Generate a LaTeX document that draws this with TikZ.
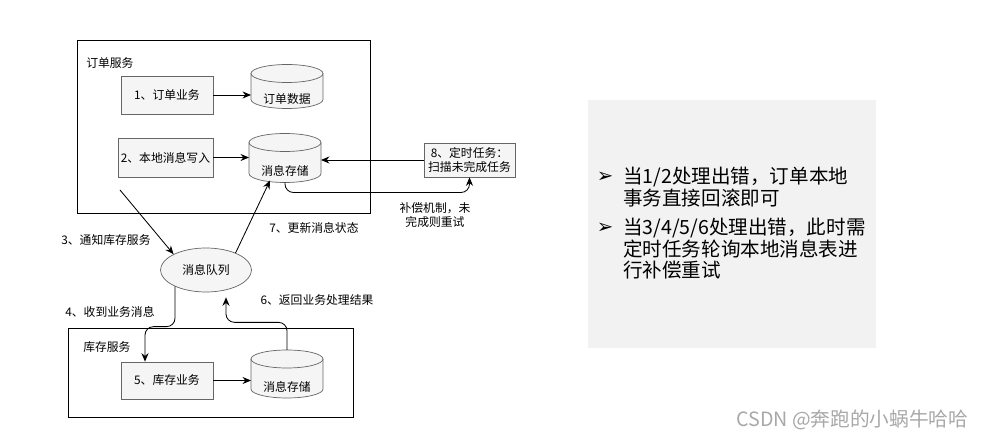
\documentclass[tikz,border=0pt]{standalone}
\usepackage{fontspec}
\setmainfont{Noto Sans CJK SC}
\newfontfamily\dejavu{DejaVu Sans}
\usetikzlibrary{calc,shapes.geometric,arrows.meta}
\newcommand{\pu}{0.025cm}
\newcommand{\smallcn}{\fontsize{8.4}{10.5}\selectfont}
\definecolor{boxfill}{HTML}{F5F5F5}
\definecolor{boxline}{HTML}{666666}
\definecolor{panelfill}{HTML}{F2F2F2}
\definecolor{markgray}{HTML}{A8A8A8}
\tikzset{
  stepbox/.style={draw=boxline, fill=boxfill, line width=0.5pt, inner sep=0pt, font=\smallcn},
  drumbox/.style={minimum width=72*\pu, inner sep=0pt, outer sep=0pt},
  drumline/.style={draw=boxline, fill=boxfill, line width=0.5pt},
  queue/.style={ellipse, draw=boxline, fill=boxfill, line width=0.5pt, inner sep=0pt,
    minimum width=91*\pu, minimum height=44*\pu, font=\smallcn},
  flow/.style={line width=0.6pt, -{Stealth[length=6pt,width=5pt]}},
  lbl/.style={font=\smallcn, inner sep=0pt, align=center},
}
% storage drum: name, x, y, height, label
\newcommand{\drum}[5]{%
  \node[drumbox, minimum height=#4*\pu] (#1) at (#2,#3) {};
  \draw[drumline] ($(#1.north west)+(0,9)$) -- ($(#1.south west)+(0,-9)$) arc (180:360:0.9cm and 0.225cm)
    -- ($(#1.north east)+(0,9)$) arc (0:180:0.9cm and 0.225cm) -- cycle;
  \draw[drumline, fill=none] ($(#1.north west)+(0,9)$) arc (180:360:0.9cm and 0.225cm);
  \node[lbl] (#1-text) at ($(#1.center)+(0,13)$) {#5};
}

\begin{document}
\begin{tikzpicture}[x=\pu, y=-\pu]
			%%%%% START %%%%%
			\useasboundingbox (0,0) rectangle (982,439);
			
			% order service
			\draw[line width=0.6pt] (77,40) rectangle (370,213);
			\node[lbl, anchor=west] (ordertitle) at (86,63) {订单服务};
			\node[stepbox, minimum width=92*\pu, minimum height=38*\pu] (biz1) at (167,95) {1、订单业务};
			\drum{data1}{287}{86.5}{44}{订单数据}
			\node[stepbox, minimum width=95*\pu, minimum height=39*\pu] (biz2) at (165.5,157.5) {2、本地消息写入};
			\drum{store1}{285}{158}{49}{消息存储}
			\node[stepbox, text width=91*\pu, minimum height=34*\pu, align=center] (task8) at (469.5,160) {8、定时任务：\\扫描未完成任务};
			
			\draw[flow] (biz1.east) -- (biz1.east -| data1.west);
			\draw[flow] (biz2.east) -- (biz2.east -| store1.west);
			\draw[flow] (task8.west) -- (task8.west -| store1.east);
			\draw[flow, rounded corners=6pt] (store1.south) -- ++(0,10) -| (task8.south);
			\node[lbl] (retry) at (435,215) {补偿机制，未\\完成则重试};
			
			% message queue
			\node[queue] (mq) at (206,270) {消息队列};
			\coordinate (c3) at (120,190);
			\draw[flow] (c3) -- (mq.north west);
			\node[lbl] (l3) at (106,240) {3、通知库存服务};
			\draw[flow] (mq.30) -- ($(store1.south)+(-15,-2)$);
			\node[lbl] (l7) at (314,228) {7、更新消息状态};
			
			% stock service
			\draw[line width=0.6pt] (68,328) rectangle (353,417);
			\node[lbl, anchor=west] (stocktitle) at (83,347) {库存服务};
			\node[stepbox, minimum width=92*\pu, minimum height=37*\pu] (biz5) at (167,380.5) {5、库存业务};
			\drum{store2}{287}{374}{48}{消息存储}
			\draw[flow] (biz5.east) -- (biz5.east -| store2.west);
			
			\draw[flow, rounded corners=6pt] (mq.208) |- ($(biz5.north)+(-22,-35)$) -- ($(biz5.north)+(-22,0)$);
			\node[lbl] (l4) at (110,312) {4、收到业务消息};
			\draw[flow, rounded corners=6pt] (store2.north) |- ($(mq.south)+(20,30)$) -- ($(mq.south)+(20,5)$);
			\node[lbl] (l6) at (317,300) {6、返回业务处理结果};
			
			% notes
			\fill[panelfill] (588,100) rectangle (876,348);
			\node[inner sep=0pt, font=\dejavu\fontsize{14}{16}\selectfont] (m1) at (605,177) {➢};
			\node[inner sep=0pt, anchor=north west, align=left, font=\fontsize{13.9}{15.2}\selectfont] (n1) at (623,167) {当1/2处理出错，订单本地\\事务直接回滚即可};
			\node[inner sep=0pt, font=\dejavu\fontsize{14}{16}\selectfont] (m2) at (605,228) {➢};
			\node[inner sep=0pt, anchor=north west, align=left, font=\fontsize{13.9}{15.2}\selectfont] (n2) at (623,218) {当3/4/5/6处理出错，此时需\\定时任务轮询本地消息表进\\行补偿重试};
			
			\node[inner sep=0pt, anchor=west, text=markgray, font=\fontsize{14}{16}\selectfont] (mark) at (736,420) {CSDN @奔跑的小蜗牛哈哈};
			%%%%% END %%%%%
\end{tikzpicture}
\end{document}
